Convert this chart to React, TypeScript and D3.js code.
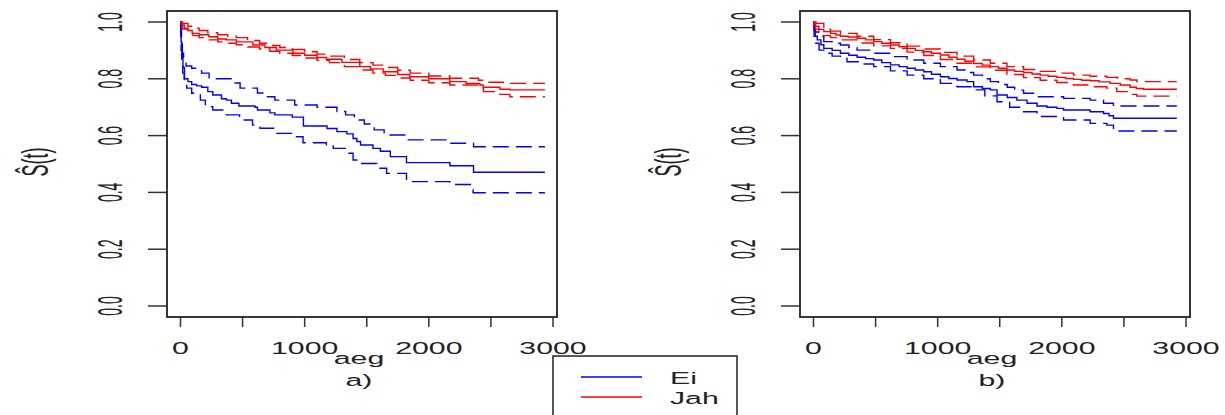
import React from "react";
import * as d3 from "d3";

// survival curves: [time, S(t)] steps
const aEiSurv: [number, number][] = [
  [0, 1], [2, 0.96], [5, 0.93], [10, 0.9], [15, 0.87], [20, 0.84], [32, 0.8], [60, 0.79], [90, 0.78],
  [130, 0.775], [170, 0.77], [220, 0.755], [260, 0.743], [330, 0.73], [370, 0.725], [410, 0.714],
  [470, 0.704], [600, 0.7], [620, 0.69], [720, 0.68], [760, 0.673], [900, 0.665], [990, 0.634],
  [1180, 0.625], [1260, 0.614], [1340, 0.606], [1390, 0.59], [1420, 0.579], [1450, 0.567],
  [1550, 0.555], [1610, 0.545], [1690, 0.526], [1820, 0.505], [2170, 0.494], [2360, 0.471], [2935, 0.471],
];
const aEiUpper: [number, number][] = [
  [0, 1], [2, 0.97], [8, 0.93], [15, 0.89], [25, 0.86], [45, 0.845], [90, 0.837], [170, 0.82],
  [230, 0.8], [420, 0.785], [480, 0.767], [620, 0.75], [680, 0.737], [760, 0.725], [920, 0.708],
  [1100, 0.7], [1260, 0.685], [1330, 0.673], [1400, 0.655], [1480, 0.641], [1560, 0.62], [1640, 0.602],
  [1820, 0.585], [2170, 0.573], [2360, 0.561], [2935, 0.561],
];
const aEiLower: [number, number][] = [
  [0, 1], [2, 0.95], [5, 0.9], [10, 0.86], [18, 0.82], [30, 0.79], [50, 0.767], [90, 0.749],
  [160, 0.725], [200, 0.702], [260, 0.69], [370, 0.673], [476, 0.655], [580, 0.637], [640, 0.626],
  [750, 0.608], [900, 0.596], [987, 0.575], [1175, 0.567], [1230, 0.555], [1336, 0.538], [1390, 0.514],
  [1444, 0.502], [1580, 0.485], [1660, 0.467], [1820, 0.438], [2169, 0.428], [2357, 0.399], [2935, 0.399],
];
const aJahSurv: [number, number][] = [
  [0, 1], [10, 0.99], [30, 0.978], [60, 0.97], [94, 0.96], [150, 0.955], [228, 0.948], [300, 0.94],
  [368, 0.937], [450, 0.93], [583, 0.919], [680, 0.91], [772, 0.901], [906, 0.89], [1000, 0.883],
  [1100, 0.875], [1175, 0.869], [1300, 0.858], [1444, 0.843], [1530, 0.835], [1632, 0.825],
  [1750, 0.815], [1847, 0.807], [2000, 0.8], [2169, 0.79], [2300, 0.784], [2411, 0.778], [2438, 0.77],
  [2573, 0.763], [2653, 0.761], [2935, 0.761],
];
const aJahUpper: [number, number][] = [
  [0, 1], [15, 0.995], [60, 0.985], [100, 0.978], [150, 0.97], [220, 0.962], [300, 0.955], [380, 0.95],
  [450, 0.945], [540, 0.935], [637, 0.925], [720, 0.917], [800, 0.91], [900, 0.903], [1000, 0.895],
  [1100, 0.887], [1200, 0.88], [1320, 0.868], [1444, 0.857], [1550, 0.848], [1650, 0.84], [1750, 0.83],
  [1850, 0.82], [2000, 0.81], [2169, 0.802], [2400, 0.795], [2440, 0.788], [2600, 0.784], [2935, 0.784],
];
const aJahLower: [number, number][] = [
  [0, 1], [15, 0.975], [60, 0.96], [100, 0.952], [150, 0.945], [220, 0.937], [300, 0.93], [380, 0.925],
  [450, 0.92], [540, 0.912], [637, 0.905], [720, 0.897], [800, 0.89], [900, 0.882], [1000, 0.873],
  [1100, 0.865], [1200, 0.857], [1320, 0.843], [1444, 0.831], [1550, 0.82], [1650, 0.812], [1750, 0.803],
  [1850, 0.795], [2000, 0.786], [2169, 0.778], [2400, 0.767], [2440, 0.755], [2573, 0.745], [2653, 0.737],
  [2935, 0.737],
];

const bEiSurv: [number, number][] = [
  [0, 1], [5, 0.97], [15, 0.95], [30, 0.937], [60, 0.92], [83, 0.907], [150, 0.9], [217, 0.89],
  [285, 0.883], [351, 0.876], [420, 0.871], [485, 0.866], [550, 0.857], [620, 0.849], [690, 0.843],
  [754, 0.837], [820, 0.831], [888, 0.825], [950, 0.816], [1022, 0.807], [1090, 0.801], [1156, 0.796],
  [1236, 0.79], [1290, 0.772], [1360, 0.766], [1424, 0.761], [1478, 0.743], [1560, 0.734],
  [1638, 0.725], [1720, 0.714], [1800, 0.704], [1880, 0.7], [1960, 0.696], [2014, 0.69], [2228, 0.684],
  [2336, 0.678], [2380, 0.67], [2416, 0.661], [2926, 0.661],
];
const bEiUpper: [number, number][] = [
  [0, 1], [5, 0.985], [15, 0.965], [40, 0.95], [83, 0.931], [150, 0.925], [217, 0.919], [285, 0.91],
  [351, 0.901], [485, 0.89], [620, 0.878], [754, 0.866], [888, 0.855], [1022, 0.843], [1156, 0.831],
  [1220, 0.822], [1290, 0.813], [1360, 0.8], [1424, 0.79], [1490, 0.78], [1560, 0.77], [1620, 0.76],
  [1692, 0.749], [1800, 0.737], [2014, 0.731], [2228, 0.725], [2336, 0.714], [2416, 0.704], [2926, 0.704],
];
const bEiLower: [number, number][] = [
  [0, 1], [5, 0.95], [15, 0.925], [45, 0.901], [83, 0.89], [150, 0.88], [217, 0.872], [270, 0.86],
  [380, 0.852], [485, 0.843], [620, 0.828], [754, 0.813], [888, 0.8], [1022, 0.784], [1156, 0.772],
  [1290, 0.761], [1380, 0.74], [1478, 0.719], [1580, 0.7], [1692, 0.684], [1800, 0.667], [2014, 0.655],
  [2228, 0.643], [2362, 0.637], [2416, 0.616], [2926, 0.616],
];
const bJahSurv: [number, number][] = [
  [0, 1], [5, 0.995], [15, 0.985], [43, 0.974], [83, 0.966], [137, 0.96], [180, 0.954], [217, 0.95],
  [280, 0.947], [351, 0.943], [420, 0.937], [485, 0.931], [550, 0.925], [620, 0.919], [690, 0.913],
  [754, 0.907], [820, 0.9], [888, 0.895], [950, 0.89], [1022, 0.884], [1090, 0.876], [1156, 0.869],
  [1220, 0.862], [1290, 0.854], [1360, 0.848], [1424, 0.843], [1490, 0.837], [1558, 0.831],
  [1620, 0.826], [1692, 0.822], [1760, 0.817], [1826, 0.813], [1890, 0.809], [1960, 0.805],
  [2030, 0.801], [2094, 0.798], [2160, 0.795], [2228, 0.793], [2300, 0.789], [2389, 0.784],
  [2470, 0.778], [2550, 0.77], [2600, 0.766], [2657, 0.763], [2926, 0.763],
];
const bJahUpper: [number, number][] = [
  [0, 1], [20, 0.995], [83, 0.975], [137, 0.968], [217, 0.96], [351, 0.95], [485, 0.938], [620, 0.927],
  [754, 0.915], [888, 0.905], [1022, 0.893], [1156, 0.88], [1290, 0.866], [1424, 0.855], [1558, 0.843],
  [1692, 0.833], [1826, 0.826], [1960, 0.82], [2094, 0.813], [2228, 0.809], [2362, 0.805], [2450, 0.8],
  [2550, 0.796], [2604, 0.79], [2926, 0.79],
];
const bJahLower: [number, number][] = [
  [0, 1], [5, 0.99], [15, 0.975], [43, 0.962], [83, 0.952], [137, 0.945], [217, 0.937], [351, 0.926],
  [485, 0.916], [620, 0.907], [754, 0.894], [888, 0.882], [1022, 0.868], [1156, 0.855], [1290, 0.842],
  [1424, 0.83], [1558, 0.815], [1692, 0.804], [1826, 0.795], [1960, 0.787], [2094, 0.778], [2228, 0.772],
  [2362, 0.767], [2443, 0.755], [2550, 0.745], [2604, 0.739], [2926, 0.739],
];

const yTicks = [0, 0.2, 0.4, 0.6, 0.8, 1.0];
const xTicks = [0, 500, 1000, 1500, 2000, 2500, 3000];
const xLabels = [0, 1000, 2000, 3000];
const groups = ["Ei", "Jah"];
const groupColors = ["#0000ff", "#ff0000"];

const FONT = "'Liberation Sans', Arial, sans-serif";
const INK = "#222";
const SX = 1.78; // picture is stretched sideways

function HText({ x, y, anchor = "middle", size = 17, children }: any) {
  return (
    <text transform={`translate(${x},${y}) scale(${SX},1)`} textAnchor={anchor}
      fontSize={size} fontFamily={FONT} fill={INK}>{children}</text>
  );
}

function VText({ x, y, size = 14, k = 2.5, children }: any) {
  return (
    <text transform={`translate(${x},${y}) rotate(-90) scale(1,${k})`} textAnchor="middle"
      fontSize={size} fontFamily={FONT} fill={INK}>{children}</text>
  );
}

function Panel({ left, label, curves }: any) {
  const box = { x0: left, x1: left + 390, y0: 11, y1: 317 };
  const x = d3.scaleLinear().domain([0, 3000]).range([box.x0 + 13.5, box.x1 - 4]);
  const y = d3.scaleLinear().domain([0, 1]).range([306, 22]);
  const line = d3.line<[number, number]>()
    .x(d => x(d[0])).y(d => y(d[1]))
    .curve(d3.curveStepAfter);
  const mid = (box.x0 + box.x1) / 2 - 3;

  return (
    <g>
      {curves.map((c: any, i: number) => (
        <path key={i} d={line(c.data) || ""} fill="none" stroke={c.color}
          strokeWidth={1.4} strokeDasharray={c.dashed ? "16 7" : undefined} />
      ))}
      <rect x={box.x0} y={box.y0} width={box.x1 - box.x0} height={box.y1 - box.y0}
        fill="none" stroke={INK} strokeWidth={1.8} />
      {yTicks.map(t => (
        <g key={t}>
          <line x1={box.x0} x2={box.x0 - 19} y1={y(t)} y2={y(t)} stroke="#333" strokeWidth={1.5} />
          <VText x={box.x0 - 45} y={y(t)}>{t.toFixed(1)}</VText>
        </g>
      ))}
      {xTicks.map(t => (
        <line key={t} x1={x(t)} x2={x(t)} y1={box.y1} y2={box.y1 + 10} stroke="#333" strokeWidth={1.5} />
      ))}
      {xLabels.map(t => (
        <HText key={t} x={x(t)} y={354}>{t}</HText>
      ))}
      <HText x={mid} y={364}>aeg</HText>
      <HText x={mid} y={386}>{label}</HText>
      <VText x={box.x0 - 119} y={162} size={18} k={2.1}>Ŝ(t)</VText>
    </g>
  );
}

export default function App() {
  const panelA = [
    { data: aEiSurv, color: groupColors[0] },
    { data: aEiUpper, color: groupColors[0], dashed: true },
    { data: aEiLower, color: groupColors[0], dashed: true },
    { data: aJahSurv, color: groupColors[1] },
    { data: aJahUpper, color: groupColors[1], dashed: true },
    { data: aJahLower, color: groupColors[1], dashed: true },
  ];
  const panelB = [
    { data: bEiSurv, color: groupColors[0] },
    { data: bEiUpper, color: groupColors[0], dashed: true },
    { data: bEiLower, color: groupColors[0], dashed: true },
    { data: bJahSurv, color: groupColors[1] },
    { data: bJahUpper, color: groupColors[1], dashed: true },
    { data: bJahLower, color: groupColors[1], dashed: true },
  ];

  return (
    <svg width={1225} height={415} style={{ position: "absolute", left: 0, top: 0, background: "#fff" }}>
      <Panel left={167} label="a)" curves={panelA} />
      <Panel left={800} label="b)" curves={panelB} />
      <rect x={553} y={356} width={184} height={70} fill="#fff" stroke={INK} strokeWidth={1.5} />
      {groups.map((g, i) => (
        <g key={g}>
          <line x1={581} x2={642} y1={377 + i * 20} y2={377 + i * 20} stroke={groupColors[i]} strokeWidth={1.4} />
          <HText x={670} y={384 + i * 20} anchor="start">{g}</HText>
        </g>
      ))}
    </svg>
  );
}
